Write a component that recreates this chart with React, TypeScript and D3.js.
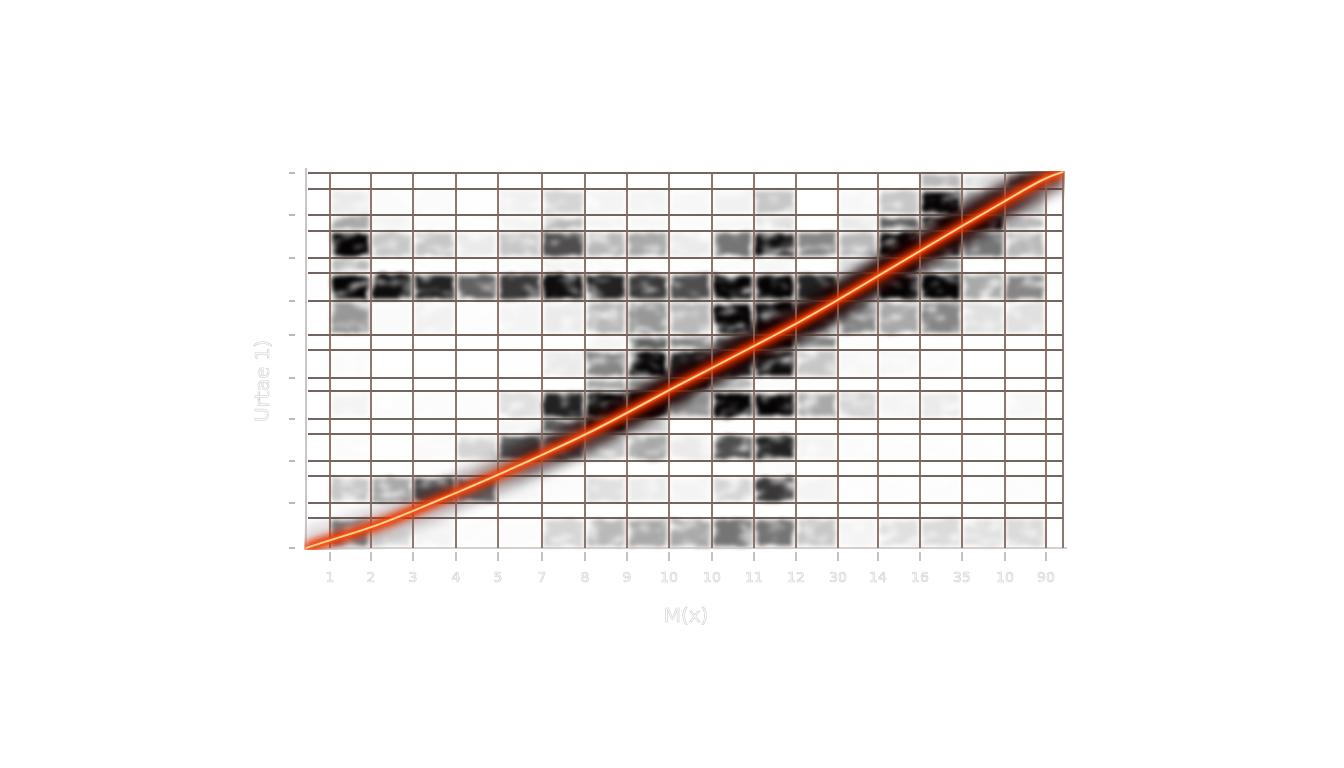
import React, { useEffect, useRef } from "react";
import * as d3 from "d3";

// tick labels under the chart, one per inner column edge
const xLabels = ["1", "2", "3", "4", "5", "7", "8", "9", "10", "10", "11", "12", "30", "14", "16", "35", "10", "90"];
// column and row edges in chart units
const xEdges = [0, 24, 65, 107, 150, 192, 236, 279, 321, 363, 406, 448, 490, 532, 572, 614, 656, 699, 740, 757];
const yEdges = [375, 359, 333, 317, 290, 275, 247, 213, 198, 170, 157, 129, 114, 87, 72, 45, 30, 0];
const yTicks = [375, 333, 290, 247, 213, 170, 129, 87, 45, 0];
// fitted line
const lineX = [0, 24, 65, 107, 150, 192, 236, 279, 321, 363, 406, 448, 490, 532, 572, 614, 656, 699, 740, 757];
const lineY = [0, 8, 20, 37, 55, 73, 93, 113, 135, 158, 180, 202, 224, 248, 272, 297, 322, 347, 371, 376];
// darkness per cell, top row first
const cells = [
  [0, 0, 0, 0, 0, 0, 0, 0, 0, 0, 0, 0, 0, 0, 0, 0.35, 0.2, 0.6, 0.3],
  [0, 0.15, 0.05, 0.05, 0.02, 0.12, 0.25, 0.1, 0.1, 0.08, 0.12, 0.3, 0.01, 0.08, 0.3, 0.9, 0.4, 0.3, 0],
  [0, 0.4, 0.1, 0.05, 0.02, 0.1, 0.35, 0.1, 0.08, 0.05, 0.08, 0.2, 0.02, 0.15, 0.6, 0.85, 0.85, 0.35, 0],
  [0, 0.85, 0.3, 0.3, 0.15, 0.3, 0.65, 0.35, 0.4, 0.15, 0.55, 0.8, 0.5, 0.35, 0.85, 0.75, 0.55, 0.35, 0],
  [0, 0.35, 0.02, 0.02, 0.02, 0.05, 0.1, 0.05, 0.03, 0.03, 0.05, 0.08, 0.02, 0.2, 0.75, 0.45, 0, 0.02, 0],
  [0.02, 1, 0.8, 0.75, 0.6, 0.7, 0.8, 0.75, 0.7, 0.65, 1, 1, 0.75, 0.35, 0.9, 1, 0.4, 0.5, 0],
  [0, 0.45, 0.06, 0.12, 0.03, 0.1, 0.15, 0.35, 0.45, 0.35, 0.95, 1, 0.65, 0.5, 0.4, 0.5, 0.2, 0.2, 0],
  [0, 0, 0, 0, 0, 0, 0.02, 0.1, 0.6, 0.5, 0.6, 0.85, 0.5, 0.05, 0, 0, 0, 0, 0],
  [0, 0.05, 0, 0, 0, 0.02, 0.15, 0.5, 0.95, 0.75, 0.75, 0.8, 0.3, 0.08, 0.08, 0.05, 0.01, 0.01, 0],
  [0, 0, 0, 0, 0, 0, 0.02, 0.4, 0.4, 0.8, 0.35, 0.05, 0.02, 0, 0, 0, 0, 0, 0],
  [0, 0.1, 0.04, 0.04, 0.04, 0.2, 0.75, 0.9, 0.9, 0.45, 0.9, 0.9, 0.4, 0.25, 0.1, 0.15, 0.02, 0.08, 0],
  [0, 0, 0, 0, 0, 0.1, 0.6, 0.85, 0.3, 0, 0.02, 0.02, 0, 0, 0, 0, 0, 0, 0],
  [0, 0.05, 0.02, 0.06, 0.25, 0.65, 0.6, 0.3, 0.4, 0.15, 0.65, 0.75, 0.1, 0.05, 0.03, 0.03, 0.03, 0.02, 0],
  [0, 0, 0, 0.02, 0.1, 0.2, 0.02, 0, 0, 0, 0, 0.05, 0, 0, 0, 0, 0, 0, 0],
  [0, 0.3, 0.4, 0.65, 0.55, 0.08, 0.05, 0.2, 0.15, 0.1, 0.25, 0.7, 0.1, 0.03, 0.03, 0.04, 0.03, 0.04, 0],
  [0, 0.05, 0.02, 0.02, 0, 0, 0, 0, 0, 0, 0, 0, 0, 0, 0, 0, 0, 0, 0],
  [0.1, 0.5, 0.2, 0.1, 0.04, 0.04, 0.25, 0.35, 0.4, 0.4, 0.55, 0.55, 0.3, 0.1, 0.2, 0.22, 0.2, 0.22, 0],
];

const left = 306;
const top = 173;
const W = 757;
const H = 375;

export default function App() {
  const ref = useRef<SVGSVGElement | null>(null);

  useEffect(() => {
    const svg = d3.select(ref.current);
    svg.selectAll("*").remove();

    const x = d3.scaleLinear().domain([0, W]).range([left, left + W]);
    const y = d3.scaleLinear().domain([0, H]).range([top + H, top]);

    const defs = svg.append("defs");
    const addBlur = (id: string, dev: number) =>
      defs
        .append("filter")
        .attr("id", id)
        .attr("filterUnits", "userSpaceOnUse")
        .attr("x", 0)
        .attr("y", 0)
        .attr("width", 1344)
        .attr("height", 768)
        .append("feGaussianBlur")
        .attr("stdDeviation", dev);
    addBlur("bandBlur", 6);
    addBlur("glowBlur", 3.5);
    addBlur("innerBlur", 1);
    addBlur("textBlur", 0.5);

    // keep the band and the glow inside the plot
    defs
      .append("clipPath")
      .attr("id", "plotClip")
      .append("rect")
      .attr("x", x(0) - 2)
      .attr("y", y(H) - 2)
      .attr("width", W + 4)
      .attr("height", H + 4);

    // smudgy look for the cells: displace, thin out with soft noise, blur last
    const smudge = defs
      .append("filter")
      .attr("id", "smudge")
      .attr("filterUnits", "userSpaceOnUse")
      .attr("x", 0)
      .attr("y", 0)
      .attr("width", 1344)
      .attr("height", 768)
      .attr("color-interpolation-filters", "sRGB");
    smudge
      .append("feTurbulence")
      .attr("type", "fractalNoise")
      .attr("baseFrequency", "0.05 0.09")
      .attr("numOctaves", 2)
      .attr("seed", 4)
      .attr("result", "noise");
    smudge
      .append("feDisplacementMap")
      .attr("in", "SourceGraphic")
      .attr("in2", "noise")
      .attr("scale", 7)
      .attr("xChannelSelector", "R")
      .attr("yChannelSelector", "G")
      .attr("result", "moved");
    smudge
      .append("feColorMatrix")
      .attr("in", "noise")
      .attr("type", "matrix")
      .attr("values", "0 0 0 0 0  0 0 0 0 0  0 0 0 0 0  2.4 0 0 0 -0.2")
      .attr("result", "mask");
    smudge.append("feComposite").attr("in", "moved").attr("in2", "mask").attr("operator", "in").attr("result", "thin");
    smudge.append("feGaussianBlur").attr("in", "thin").attr("stdDeviation", 2.2);

    // band fades out towards the lower left
    const bandGrad = defs
      .append("linearGradient")
      .attr("id", "bandGrad")
      .attr("gradientUnits", "userSpaceOnUse")
      .attr("x1", x(0))
      .attr("x2", x(W))
      .attr("y1", 0)
      .attr("y2", 0);
    bandGrad.append("stop").attr("offset", 0).attr("stop-color", "#3a1204").attr("stop-opacity", 0.1);
    bandGrad.append("stop").attr("offset", 0.25).attr("stop-color", "#1c0500").attr("stop-opacity", 0.35);
    bandGrad.append("stop").attr("offset", 0.45).attr("stop-color", "#140300").attr("stop-opacity", 1);
    bandGrad.append("stop").attr("offset", 0.9).attr("stop-color", "#1c0500").attr("stop-opacity", 0.95);
    bandGrad.append("stop").attr("offset", 1).attr("stop-color", "#2a0a00").attr("stop-opacity", 0.5);

    // blurred cells
    const heat = svg.append("g").attr("filter", "url(#smudge)");
    cells.forEach((row, r) => {
      row.forEach((v, c) => {
        if (v <= 0) return;
        const x0 = x(xEdges[c]) + 2;
        const x1 = x(xEdges[c + 1]) - 2;
        const y0 = y(yEdges[r]) + 2;
        const y1 = y(yEdges[r + 1]) - 2;
        heat
          .append("rect")
          .attr("x", x0)
          .attr("y", y0)
          .attr("width", Math.max(x1 - x0, 1))
          .attr("height", Math.max(y1 - y0, 1))
          .attr("fill", "#050303")
          .attr("fill-opacity", Math.min(1, Math.pow(v, 1.5) * 1.35));
      });
    });

    const curve = d3
      .line<number>()
      .x((d) => x(d))
      .y((_, i) => y(lineY[i]))
      .curve(d3.curveBasis);
    const path = curve(lineX) as string;

    // dark band along the line
    svg
      .append("g")
      .attr("clip-path", "url(#plotClip)")
      .append("path")
      .attr("d", path)
      .attr("fill", "none")
      .attr("stroke", "url(#bandGrad)")
      .attr("stroke-width", 34)
      .attr("filter", "url(#bandBlur)");

    // axes
    svg
      .append("line")
      .attr("x1", x(0))
      .attr("x2", x(0))
      .attr("y1", y(H) - 5)
      .attr("y2", y(0))
      .attr("stroke", "#b5b5b5")
      .attr("stroke-width", 1.5);
    svg
      .append("line")
      .attr("x1", x(0))
      .attr("x2", x(W) + 4)
      .attr("y1", y(0))
      .attr("y2", y(0))
      .attr("stroke", "#c4c0bc")
      .attr("stroke-width", 1.5);

    // grid
    const grid = svg.append("g");
    grid
      .selectAll("line.h")
      .data(yEdges.slice(0, -1))
      .enter()
      .append("line")
      .attr("class", "h")
      .attr("x1", x(2))
      .attr("x2", x(W))
      .attr("y1", (d) => y(d))
      .attr("y2", (d) => y(d))
      .attr("stroke", "#46322b")
      .attr("stroke-width", 1.6);
    grid
      .selectAll("line.v")
      .data(xEdges.slice(1))
      .enter()
      .append("line")
      .attr("class", "v")
      .attr("x1", (d) => x(d))
      .attr("x2", (d) => x(d))
      .attr("y1", y(H))
      .attr("y2", y(0))
      .attr("stroke", "#84685c")
      .attr("stroke-width", 1.8);

    // ticks
    svg
      .selectAll("line.ty")
      .data(yTicks)
      .enter()
      .append("line")
      .attr("class", "ty")
      .attr("x1", x(0) - 17)
      .attr("x2", x(0) - 11)
      .attr("y1", (d) => y(d))
      .attr("y2", (d) => y(d))
      .attr("stroke", "#8c8c8c")
      .attr("stroke-width", 1.2);
    svg
      .selectAll("line.tx")
      .data(xEdges.slice(1, -1))
      .enter()
      .append("line")
      .attr("class", "tx")
      .attr("x1", (d) => x(d))
      .attr("x2", (d) => x(d))
      .attr("y1", y(0) + 4)
      .attr("y2", y(0) + 13)
      .attr("stroke", "#9a9a9a")
      .attr("stroke-width", 1.2);

    // glow and the line itself
    const glow = svg.append("g").attr("clip-path", "url(#plotClip)");
    glow
      .append("path")
      .attr("d", path)
      .attr("fill", "none")
      .attr("stroke", "#e83200")
      .attr("stroke-width", 11)
      .attr("filter", "url(#glowBlur)");
    glow
      .append("path")
      .attr("d", path)
      .attr("fill", "none")
      .attr("stroke", "#ff5a14")
      .attr("stroke-width", 4)
      .attr("filter", "url(#innerBlur)");
    glow
      .append("path")
      .attr("d", path)
      .attr("fill", "none")
      .attr("stroke", "#ffd59a")
      .attr("stroke-width", 1.8);

    // labels
    const labels = svg
      .append("g")
      .attr("font-family", "'DejaVu Sans', sans-serif")
      .attr("fill", "#ffffff")
      .attr("stroke", "#cfcfcf")
      .attr("stroke-width", 0.6)
      .attr("text-anchor", "middle")
      .attr("filter", "url(#textBlur)");
    labels
      .selectAll("text.xl")
      .data(xLabels)
      .enter()
      .append("text")
      .attr("class", "xl")
      .attr("x", (_, i) => x(xEdges[i + 1]))
      .attr("y", y(0) + 34)
      .attr("font-size", 14)
      .text((d) => d);
    labels
      .append("text")
      .attr("x", x(380))
      .attr("y", y(0) + 74)
      .attr("font-size", 20)
      .text("M(x)");
    labels
      .append("text")
      .attr("transform", `translate(${x(0) - 37},381) rotate(-90)`)
      .attr("font-size", 20)
      .text("Urtae 1)");
  }, []);

  return <svg ref={ref} width={1344} height={768} style={{ position: "absolute", left: 0, top: 0 }} />;
}
